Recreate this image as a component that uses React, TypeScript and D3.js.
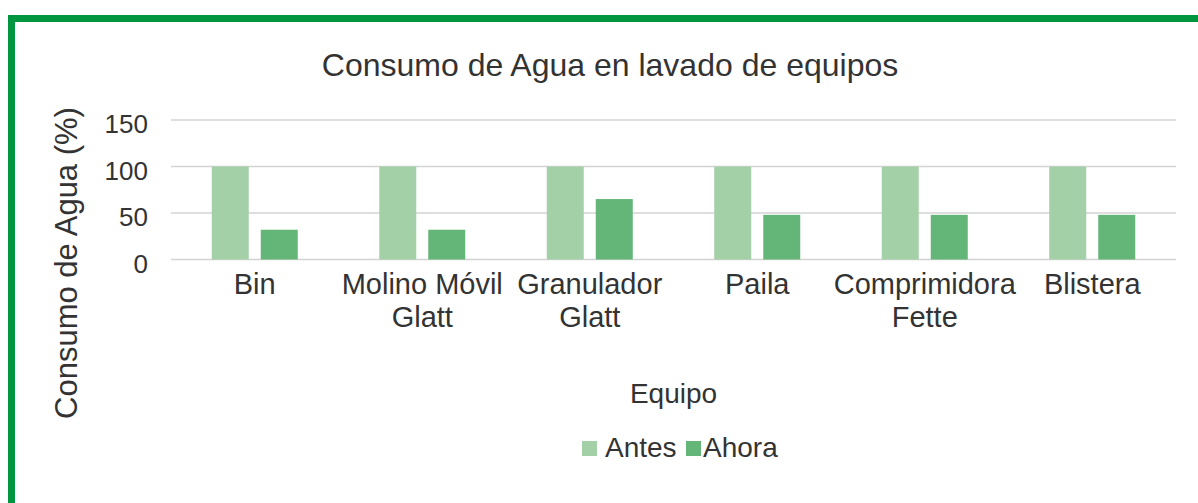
import * as d3 from "d3";
import { useEffect, useRef } from "react";

const categories = [
  ["Bin"],
  ["Molino Móvil", "Glatt"],
  ["Granulador", "Glatt"],
  ["Paila"],
  ["Comprimidora", "Fette"],
  ["Blistera"],
];
const series = ["Antes", "Ahora"];
const antes = [100, 100, 100, 100, 100, 100];
const ahora = [32, 32, 65, 48, 48, 48];
const yTicks = [0, 50, 100, 150];

const colors = ["#a3d0a7", "#63b677"];
const textColor = "#333333";
const font = "'Liberation Sans', Arial, sans-serif";

export default function App() {
  const ref = useRef<SVGSVGElement>(null);

  useEffect(() => {
    const svg = d3.select(ref.current);
    svg.selectAll("*").remove();

    const left = 171,
      right = 1176,
      top = 120,
      bottom = 259.5;

    // green frame (only top and left are visible)
    svg
      .append("rect")
      .attr("x", 11.5)
      .attr("y", 18.5)
      .attr("width", 1300)
      .attr("height", 600)
      .attr("fill", "none")
      .attr("stroke", "#009640")
      .attr("stroke-width", 7);

    svg
      .append("text")
      .attr("x", 610)
      .attr("y", 76)
      .attr("text-anchor", "middle")
      .attr("font-size", 32)
      .attr("fill", textColor)
      .text("Consumo de Agua en lavado de equipos");

    const x = d3
      .scaleBand()
      .domain(categories.map((d, i) => String(i)))
      .range([left, right]);

    const groupW = 86;
    const xi = d3
      .scaleBand()
      .domain(series)
      .range([0, groupW])
      .paddingInner(0.245);

    const y = d3.scaleLinear().domain([0, 150]).range([bottom, top]);

    svg
      .append("g")
      .selectAll("line")
      .data(yTicks)
      .enter()
      .append("line")
      .attr("x1", left)
      .attr("x2", right)
      .attr("y1", (d) => y(d))
      .attr("y2", (d) => y(d))
      .attr("stroke", "#d3d3d3")
      .attr("stroke-width", 1.5);

    svg
      .append("g")
      .selectAll("text")
      .data(yTicks)
      .enter()
      .append("text")
      .attr("x", 148)
      .attr("y", (d) => y(d) + 13)
      .attr("text-anchor", "end")
      .attr("font-size", 26)
      .attr("fill", textColor)
      .text((d) => d);

    const values = [antes, ahora];
    series.forEach((s, si) => {
      svg
        .append("g")
        .selectAll("rect")
        .data(values[si])
        .enter()
        .append("rect")
        .attr(
          "x",
          (d, i) => x(String(i))! + (x.bandwidth() - groupW) / 2 + xi(s)!
        )
        .attr("y", (d) => y(d))
        .attr("width", xi.bandwidth())
        .attr("height", (d) => y(0) - y(d))
        .attr("fill", colors[si]);
    });

    const cat = svg
      .append("g")
      .selectAll("text")
      .data(categories)
      .enter()
      .append("text")
      .attr("text-anchor", "middle")
      .attr("font-size", 29)
      .attr("fill", textColor);
    cat
      .selectAll("tspan")
      .data((d, i) => d.map((t) => ({ t, i })))
      .enter()
      .append("tspan")
      .attr("x", (d) => x(String(d.i))! + x.bandwidth() / 2)
      .attr("y", (d, j) => 294 + j * 33)
      .text((d) => d.t);

    svg
      .append("text")
      .attr("x", (left + right) / 2)
      .attr("y", 403)
      .attr("text-anchor", "middle")
      .attr("font-size", 28)
      .attr("fill", textColor)
      .text("Equipo");

    svg
      .append("text")
      .attr("transform", "translate(77,263) rotate(-90)")
      .attr("text-anchor", "middle")
      .attr("font-size", 31)
      .attr("fill", textColor)
      .text("Consumo de Agua (%)");

    // legend
    const legendX = [582, 686];
    const legendTextX = [605, 703];
    series.forEach((s, si) => {
      svg
        .append("rect")
        .attr("x", legendX[si])
        .attr("y", 441)
        .attr("width", 15)
        .attr("height", 15)
        .attr("fill", colors[si]);
      svg
        .append("text")
        .attr("x", legendTextX[si])
        .attr("y", 457)
        .attr("font-size", 28)
        .attr("fill", textColor)
        .text(s);
    });
  }, []);

  return (
    <svg
      ref={ref}
      width={1198}
      height={503}
      style={{ position: "absolute", left: 0, top: 0, fontFamily: font, background: "#fff" }}
    />
  );
}
